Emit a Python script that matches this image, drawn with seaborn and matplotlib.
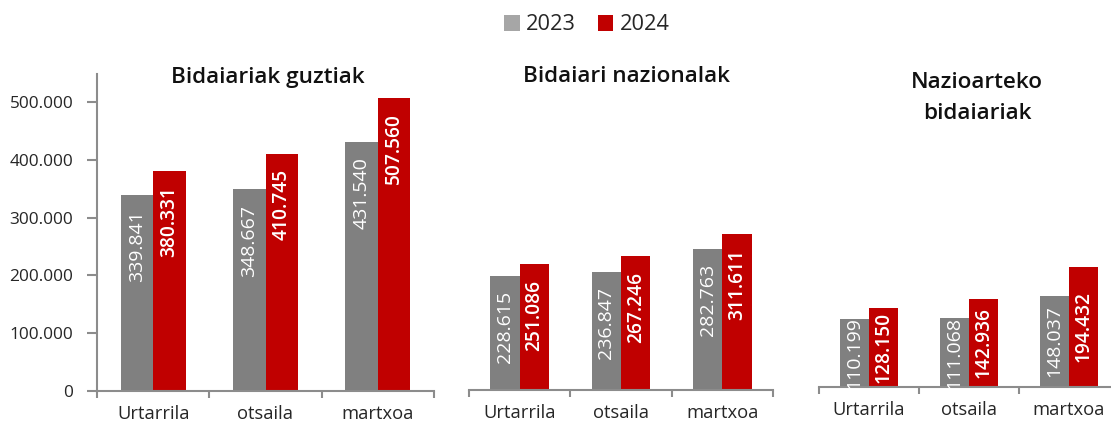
import pandas as pd
import matplotlib
matplotlib.use("Agg")
import matplotlib.pyplot as plt
from matplotlib.patches import Patch
from matplotlib.ticker import FuncFormatter, FixedLocator
import seaborn as sns

# Datos
months = ["Urtarrila", "otsaila", "martxoa"]
years = ["2023", "2024"]
titles = ["Bidaiariak guztiak", "Bidaiari nazionalak", "Nazioarteko\nbidaiariak"]

guztiak_2023 = [339841, 348667, 431540]
guztiak_2024 = [380331, 410745, 507560]
nazionalak_2023 = [228615, 236847, 282763]
nazionalak_2024 = [251086, 267246, 311611]
nazioarteko_2023 = [110199, 111068, 148037]
nazioarteko_2024 = [128150, 142936, 194432]

yticks = [0, 100000, 200000, 300000, 400000, 500000]

series = [
    (guztiak_2023, guztiak_2024),
    (nazionalak_2023, nazionalak_2024),
    (nazioarteko_2023, nazioarteko_2024),
]

colors = {"2023": "#808080", "2024": "#C00000"}
legend_colors = ["#A6A6A6", "#C00000"]
# estilo de etiquetas por año: (color, peso, tamaño)
label_style = [("white", "normal", 14.0), ("white", 600, 13.8)]

sns.set_style("white")
plt.rcParams["font.family"] = ["Open Sans", "DejaVu Sans"]

W, H = 1111, 421
fig = plt.figure(figsize=(W / 100, H / 100), dpi=100)

# (left, right, baseline, top) en pixeles, y ylim maximo
layout = [
    (97, 434, 391, 74, 548400),
    (469, 773, 390, 74, 632000),
    (819, 1119, 387, 74, 507000),
]
title_pos = [(268, 77), (627, 76), (977, 98)]


def miles(v, pos=None):
    return f"{int(v):,}".replace(",", ".")


axis_color = "#8C8C8C"

for i, ((v23, v24), (l, r, b, t, ymax)) in enumerate(zip(series, layout)):
    ax = fig.add_axes([l / W, 1 - b / H, (r - l) / W, (b - t) / H])
    df = pd.DataFrame({
        "month": months * 2,
        "year": ["2023"] * 3 + ["2024"] * 3,
        "value": v23 + v24,
    })
    sns.barplot(data=df, x="month", y="value", hue="year", palette=colors,
                width=0.58, ax=ax, legend=False, saturation=1, edgecolor="none")
    ax.set_xlim(-0.5, 2.5)
    ax.set_ylim(0, ymax)
    ax.set_xlabel("")
    ax.set_ylabel("")

    # etiquetas de valores dentro de las barras
    for cont, vals, (lc, lw, ls) in zip(ax.containers, [v23, v24], label_style):
        for bar, v in zip(cont, vals):
            xc = bar.get_x() + bar.get_width() / 2
            if i < 2:
                txt = ax.annotate(miles(v), (xc, bar.get_height()),
                                  xytext=(0, -11), textcoords="offset points", rotation=90,
                                  ha="center", va="top", color=lc, fontweight=lw, fontsize=ls)
            else:
                txt = ax.annotate(miles(v), (xc, bar.get_height() / 2),
                                  rotation=90, ha="center", va="center",
                                  color=lc, fontweight=lw, fontsize=ls)
            txt.set_clip_on(True)

    # eje x: marcas entre categorias
    ax.xaxis.set_major_locator(FixedLocator([-0.5, 0.5, 1.5, 2.5]))
    ax.xaxis.set_minor_locator(FixedLocator([0, 1, 2]))
    ax.set_xticklabels([], minor=False)
    ax.set_xticklabels(months, minor=True, fontsize=13.2, color="#262626")
    ax.tick_params(axis="x", which="major", length=5, width=1.5, color=axis_color, direction="out", bottom=True)
    ax.tick_params(axis="x", which="minor", length=0, pad=10)

    for s in ["top", "right"]:
        ax.spines[s].set_visible(False)
    ax.spines["bottom"].set_color(axis_color)
    ax.spines["bottom"].set_linewidth(1.5)

    if i == 0:
        ax.set_yticks(yticks)
        ax.yaxis.set_major_formatter(FuncFormatter(miles))
        ax.tick_params(axis="y", length=7, width=1.5, color=axis_color, labelsize=12.4,
                       labelcolor="#262626", direction="out", left=True, pad=10)
        ax.spines["left"].set_color(axis_color)
        ax.spines["left"].set_linewidth(1.5)
    else:
        ax.spines["left"].set_visible(False)
        ax.set_yticks([])

    tx, ty = title_pos[i]
    fig.text(tx / W, 1 - ty / H, titles[i], ha="center", va="center",
             fontsize=16.2, fontweight=600, color="#111111", linespacing=1.6)

handles = [Patch(facecolor=c, edgecolor="none") for c in legend_colors]
fig.legend(handles, years, loc="center", bbox_to_anchor=(587 / W, 1 - 25 / H),
           ncol=2, frameon=False, fontsize=15.7, handlelength=0.7, handleheight=0.7,
           handletextpad=0.3, columnspacing=1.0)

fig.savefig("out.png", dpi=100)
